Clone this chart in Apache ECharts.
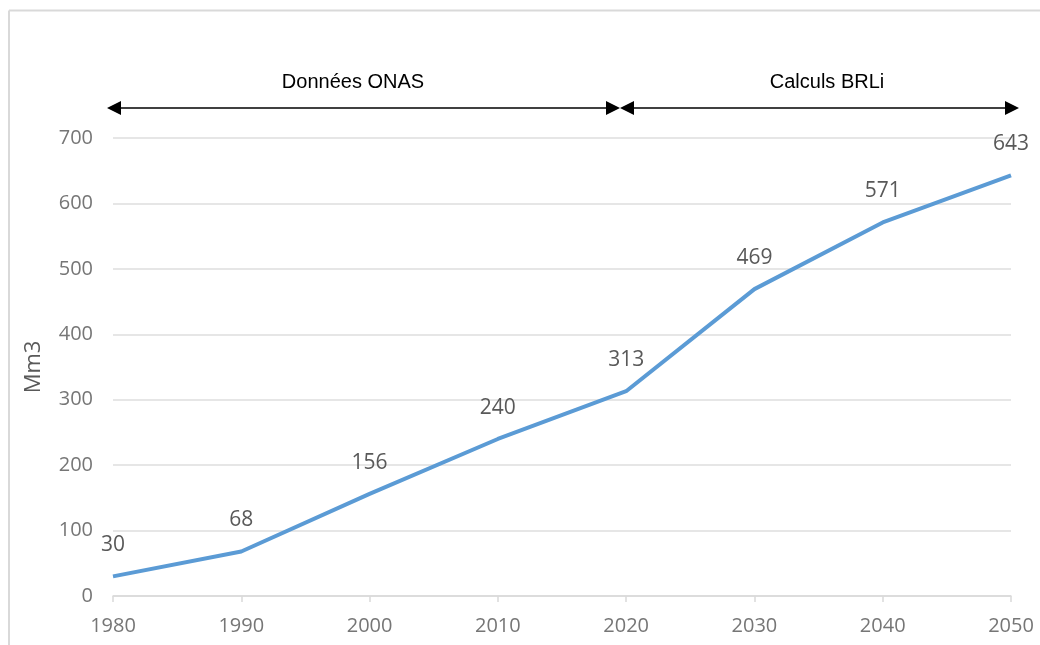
<!DOCTYPE html>
<html>
<head>
<meta charset="utf-8">
<script src="https://cdn.jsdelivr.net/npm/echarts@6/dist/echarts.min.js"></script>
<style>
  html, body { margin: 0; padding: 0; background: #fff; }
  #chart { width: 1040px; height: 645px; }
</style>
</head>
<body>
<div id="chart"></div>
<script>
// Annual volumes (Mm3), measured up to 2020 and projected afterwards
const years = ['1980', '1990', '2000', '2010', '2020', '2030', '2040', '2050'];
const volumes = [30, 68, 156, 240, 313, 469, 571, 643];
const yTicks = { min: 0, max: 700, interval: 100 };
const periodLabels = ['Données ONAS', 'Calculs BRLi'];

const chart = echarts.init(document.getElementById('chart'));

// Double-headed arrow made of a line and two triangular heads
function arrow(x1, x2, y) {
  const h = 14, w = 7;
  return [
    { type: 'line', shape: { x1: x1 + h, y1: y, x2: x2 - h, y2: y },
      style: { stroke: '#000', lineWidth: 1.3 } },
    { type: 'polygon', shape: { points: [[x1, y], [x1 + h, y - w], [x1 + h, y + w]] },
      style: { fill: '#000' } },
    { type: 'polygon', shape: { points: [[x2, y], [x2 - h, y - w], [x2 - h, y + w]] },
      style: { fill: '#000' } }
  ];
}

const textFont = 'Liberation Sans, Arial, sans-serif';
const axisFont = 'Open Sans, Noto Sans, sans-serif';

chart.setOption({
  animation: false,
  backgroundColor: '#fff',
  grid: { left: 113, right: 29, top: 138, bottom: 49 },
  xAxis: {
    type: 'category',
    data: years,
    boundaryGap: false,
    axisLine: { lineStyle: { color: '#d9d9d9', width: 1.5 } },
    axisTick: { show: true, length: 6, lineStyle: { color: '#d9d9d9', width: 1.5 } },
    axisLabel: { color: '#767676', fontSize: 20, fontFamily: axisFont, margin: 20 },
    splitLine: { show: false }
  },
  yAxis: {
    type: 'value',
    min: yTicks.min,
    max: yTicks.max,
    interval: yTicks.interval,
    name: 'Mm3',
    nameLocation: 'middle',
    nameGap: 68,
    nameRotate: 90,
    nameTextStyle: { color: '#595959', fontSize: 22, fontFamily: axisFont },
    axisLine: { show: false },
    axisTick: { show: false },
    axisLabel: { color: '#767676', fontSize: 20, fontFamily: axisFont, margin: 20 },
    splitLine: { lineStyle: { color: '#dedede', width: 1.5 } }
  },
  series: [{
    type: 'line',
    data: volumes,
    symbol: 'circle',
    symbolSize: 1,
    showSymbol: true,
    itemStyle: { color: 'rgba(0,0,0,0)' },
    lineStyle: { color: '#5b9bd5', width: 4 },
    label: {
      show: true,
      position: 'top',
      distance: 20,
      color: '#595959',
      fontSize: 21,
      fontFamily: axisFont
    }
  }],
  graphic: [
    // chart frame (top and left edges)
    { type: 'line', shape: { x1: 9, y1: 10.5, x2: 1040, y2: 10.5 },
      style: { stroke: '#d9d9d9', lineWidth: 2 } },
    { type: 'line', shape: { x1: 9, y1: 10.5, x2: 9, y2: 645 },
      style: { stroke: '#d9d9d9', lineWidth: 2 } },
    ...arrow(107, 620, 108),
    ...arrow(620, 1019, 108),
    { type: 'text',
      style: { text: periodLabels[0], x: 353, y: 82, textAlign: 'center', textVerticalAlign: 'middle',
               fill: '#000', font: '20px ' + textFont } },
    { type: 'text',
      style: { text: periodLabels[1], x: 827, y: 82, textAlign: 'center', textVerticalAlign: 'middle',
               fill: '#000', font: '20px ' + textFont } }
  ]
});
</script>
</body>
</html>
